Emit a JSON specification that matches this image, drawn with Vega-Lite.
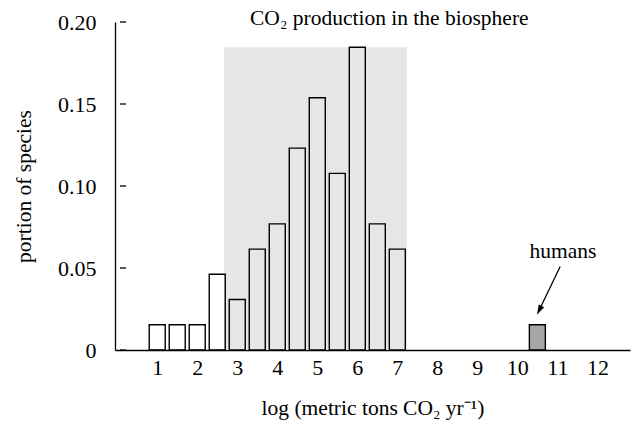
{
  "$schema": "https://vega.github.io/schema/vega-lite/v6.json",
  "width": 515,
  "height": 328,
  "autosize": "none",
  "padding": {"left": 115, "top": 22, "right": 8, "bottom": 78},
  "config": {
    "view": {"stroke": null},
    "font": "Liberation Serif",
    "axis": {"grid": false, "domainColor": "#000", "domainWidth": 1.3, "tickColor": "#000", "tickWidth": 1.3, "labelColor": "#000", "titleColor": "#000", "labelFont": "Liberation Serif", "titleFont": "Liberation Serif", "labelFontSize": 22, "titleFontSize": 21.5, "titleFontWeight": "normal"}
  },
  "layer": [
    {
      "data": {"values": [{"from": 2.67, "to": 7.24, "low": 0, "high": 0.1846}]},
      "mark": {"type": "rect", "fill": "#e6e6e6"},
      "encoding": {
        "x": {"field": "from", "type": "quantitative", "scale": {"domain": [0.07, 12.69], "nice": false, "zero": false},
          "axis": {"values": [1,2,3,4,5,6,7,8,9,10,11,12], "format": "d", "ticks": false, "labelPadding": 7, "title": "log (metric tons CO₂ yr⁻¹)", "titlePadding": 19}},
        "x2": {"field": "to"},
        "y": {"field": "low", "type": "quantitative", "scale": {"domain": [0, 0.2], "nice": false},
          "axis": {"values": [0, 0.05, 0.1, 0.15, 0.2], "labelExpr": "datum.value == 0 ? '0' : format(datum.value, '.2f')", "ticks": false, "labelPadding": 19, "title": "portion of species", "titlePadding": 22}},
        "y2": {"field": "high"}
      }
    },
    {
      "data": {"values": [
        {"t0": 0.07, "t1": 0.22, "tv": 0},
        {"t0": 0.07, "t1": 0.22, "tv": 0.05},
        {"t0": 0.07, "t1": 0.22, "tv": 0.1},
        {"t0": 0.07, "t1": 0.22, "tv": 0.15},
        {"t0": 0.07, "t1": 0.22, "tv": 0.2}
      ]},
      "mark": {"type": "rule", "color": "#000", "strokeWidth": 1.3},
      "encoding": {
        "x": {"field": "t0", "type": "quantitative"},
        "x2": {"field": "t1"},
        "y": {"field": "tv", "type": "quantitative"}
      }
    },
    {
      "data": {"values": [
        {"log": 1, "portion": 0.0154, "group": "species"},
        {"log": 1.5, "portion": 0.0154, "group": "species"},
        {"log": 2, "portion": 0.0154, "group": "species"},
        {"log": 2.5, "portion": 0.0462, "group": "species"},
        {"log": 3, "portion": 0.0308, "group": "species"},
        {"log": 3.5, "portion": 0.0615, "group": "species"},
        {"log": 4, "portion": 0.0769, "group": "species"},
        {"log": 4.5, "portion": 0.1231, "group": "species"},
        {"log": 5, "portion": 0.1538, "group": "species"},
        {"log": 5.5, "portion": 0.1077, "group": "species"},
        {"log": 6, "portion": 0.1846, "group": "species"},
        {"log": 6.5, "portion": 0.0769, "group": "species"},
        {"log": 7, "portion": 0.0615, "group": "species"},
        {"log": 10.5, "portion": 0.0154, "group": "humans"}
      ]},
      "mark": {"type": "bar", "size": 16, "stroke": "#000", "strokeWidth": 1.4},
      "encoding": {
        "x": {"field": "log", "type": "quantitative"},
        "y": {"field": "portion", "type": "quantitative"},
        "fill": {"field": "group", "type": "nominal", "scale": {"domain": ["species", "humans"], "range": ["rgba(0,0,0,0)", "#a6a6a6"]}, "legend": null}
      }
    },
    {
      "data": {"values": [{"tx": 6.8, "ty": 0.198, "label": "CO₂ production in the biosphere"}, {"tx": 11.14, "ty": 0.0564, "label": "humans"}]},
      "mark": {"type": "text", "fontSize": 21.5, "font": "Liberation Serif", "color": "#000", "align": "center", "baseline": "alphabetic"},
      "encoding": {
        "x": {"field": "tx", "type": "quantitative"},
        "y": {"field": "ty", "type": "quantitative"},
        "text": {"field": "label"}
      }
    },
    {
      "data": {"values": [{"ax": 11.07, "ay": 0.0509, "bx": 10.55, "by": 0.0245}]},
      "mark": {"type": "rule", "color": "#000", "strokeWidth": 1.3},
      "encoding": {
        "x": {"field": "ax", "type": "quantitative"},
        "y": {"field": "ay", "type": "quantitative"},
        "x2": {"field": "bx"},
        "y2": {"field": "by"}
      }
    },
    {
      "data": {"values": [{"hx": 10.49, "hy": 0.0215}]},
      "mark": {"type": "point", "shape": "M0,0 L-0.3,-1 L0.3,-1 Z", "size": 400, "filled": true, "color": "#000", "opacity": 1, "angle": 26.6},
      "encoding": {
        "x": {"field": "hx", "type": "quantitative"},
        "y": {"field": "hy", "type": "quantitative"}
      }
    }
  ]
}
